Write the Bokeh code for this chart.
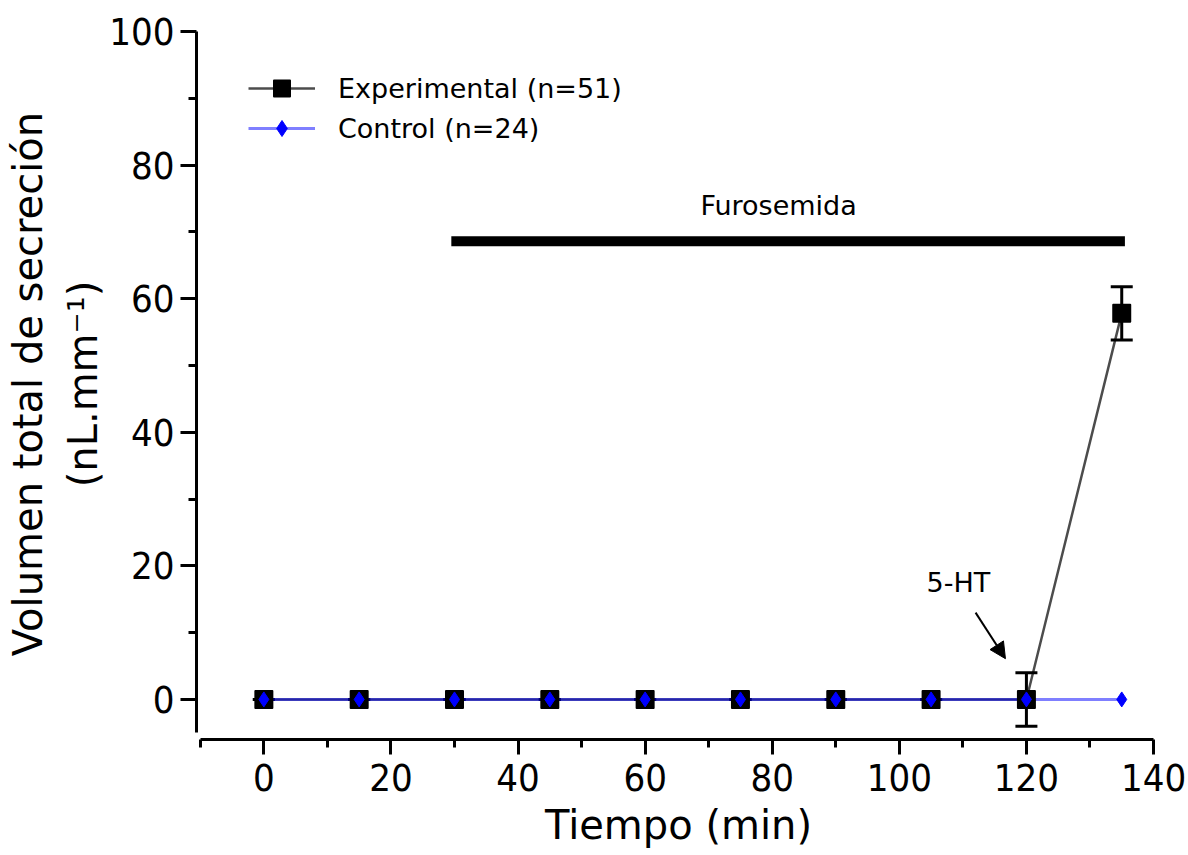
import numpy as np
from bokeh.plotting import figure
from bokeh.models import (ColumnDataSource, FixedTicker, Whisker, TeeHead, Legend, LegendItem,
                          Label, Arrow, NormalHead, Range1d)
from bokeh.embed import file_html
from bokeh.resources import INLINE

# ---- data ----
time_min = [0, 15, 30, 45, 60, 75, 90, 105, 120, 135]
exp_mean = [0, 0, 0, 0, 0, 0, 0, 0, 0, 57.8]
exp_sem = [0, 0, 0, 0, 0, 0, 0, 0, 4.0, 4.0]
ctrl_mean = [0, 0, 0, 0, 0, 0, 0, 0, 0, 0]
x_ticks = [0, 20, 40, 60, 80, 100, 120, 140]
x_minor = [-10, 10, 30, 50, 70, 90, 110, 130]
y_ticks = [0, 20, 40, 60, 80, 100]
y_minor = [10, 30, 50, 70, 90]
furosemida_x = [29.5, 135.5]
furosemida_y = [68.6, 68.6]
furosemida_label = "Furosemida"
ht_label = "5-HT"

exp_src = ColumnDataSource(dict(
    t=time_min, y=exp_mean,
    upper=[m + s for m, s in zip(exp_mean, exp_sem)],
    lower=[m - s for m, s in zip(exp_mean, exp_sem)]))
ctrl_src = ColumnDataSource(dict(t=time_min, y=ctrl_mean))

TICK_FONT = "'Liberation Sans Narrow', 'DejaVu Sans Condensed', 'Liberation Sans'"

p = figure(width=1188, height=855, output_backend="svg", toolbar_location=None,
           x_range=Range1d(-10.6, 141.1), y_range=Range1d(-6, 100.45),
           min_border_left=196, min_border_right=28, min_border_top=28, min_border_bottom=116)
p.xgrid.visible = False
p.ygrid.visible = False
p.outline_line_color = None
p.background_fill_color = "white"

# axes
for ax in (p.xaxis, p.yaxis):
    ax.axis_line_width = 3
    ax.axis_line_color = "black"
    ax.major_tick_line_width = 3
    ax.minor_tick_line_width = 3
    ax.major_tick_line_color = "black"
    ax.minor_tick_line_color = "black"
    ax.major_tick_in = 0
    ax.minor_tick_in = 0
    ax.major_label_text_font = TICK_FONT
    ax.major_label_text_font_size = "38px"
    ax.major_label_text_color = "black"
    ax.axis_label_text_font = "DejaVu Sans"
    ax.axis_label_text_font_size = "40px"
    ax.axis_label_text_font_style = "normal"
    ax.axis_label_text_color = "black"

p.xaxis.ticker = FixedTicker(ticks=x_ticks, minor_ticks=x_minor)
p.yaxis.ticker = FixedTicker(ticks=y_ticks, minor_ticks=y_minor)
p.xaxis.bounds = (-10, 140)
p.yaxis.bounds = (-5, 100)
p.xaxis.major_tick_out = 15
p.xaxis.minor_tick_out = 8
p.yaxis.major_tick_out = 16
p.yaxis.minor_tick_out = 8
p.xaxis.major_label_standoff = 9
p.yaxis.major_label_standoff = 6
p.xaxis.axis_label = "Tiempo (min)"
p.yaxis.axis_label = "Volumen total de secreción\n(nL.mm\u207b\u00b9)"
p.xaxis.axis_label_standoff = 8
p.yaxis.axis_label_standoff = 0

# series
r_exp_line = p.line("t", "y", source=exp_src, line_color="black", line_alpha=0.7, line_width=2.5)
r_ctrl_line = p.line("t", "y", source=ctrl_src, line_color="blue", line_alpha=0.5, line_width=3)
r_exp_pts = p.scatter("t", "y", source=exp_src, marker="square", size=17,
                      fill_color="black", line_color="black", line_width=2, line_join="round")
r_ctrl_pts = p.scatter("t", "y", source=ctrl_src, marker="diamond", size=15,
                       fill_color="blue", line_color="blue", line_width=1)

whisk = Whisker(source=exp_src, base="t", upper="upper", lower="lower",
                line_color="black", line_width=3,
                upper_head=TeeHead(size=22, line_width=3, line_color="black"),
                lower_head=TeeHead(size=22, line_width=3, line_color="black"))
p.add_layout(whisk)

# furosemida bar
p.line(furosemida_x, furosemida_y, line_color="black", line_width=10, line_cap="butt")
p.add_layout(Label(x=81, y=74, text=furosemida_label, text_align="center", text_baseline="middle",
                   text_font="DejaVu Sans", text_font_size="27px", text_color="black"))

# 5-HT annotation
p.add_layout(Label(x=109.3, y=17.5, text=ht_label, text_align="center", text_baseline="middle",
                   text_font="DejaVu Sans", text_font_size="27px", text_color="black"))
p.add_layout(Arrow(end=NormalHead(size=16, fill_color="black", line_color="black"),
                   x_start=112, y_start=13, x_end=116.7, y_end=6.1,
                   line_color="black", line_width=2))

legend = Legend(items=[LegendItem(label="Experimental (n=51)", renderers=[r_exp_line, r_exp_pts]),
                       LegendItem(label="Control (n=24)", renderers=[r_ctrl_line, r_ctrl_pts])],
                location=(52, 591), glyph_width=67, glyph_height=40, label_height=40,
                spacing=0, padding=0, margin=0, label_standoff=23,
                label_text_font="DejaVu Sans", label_text_font_size="27px",
                label_text_color="black",
                border_line_color=None, background_fill_alpha=0)
p.add_layout(legend)

open("out.html", "w").write(file_html(p, INLINE))
